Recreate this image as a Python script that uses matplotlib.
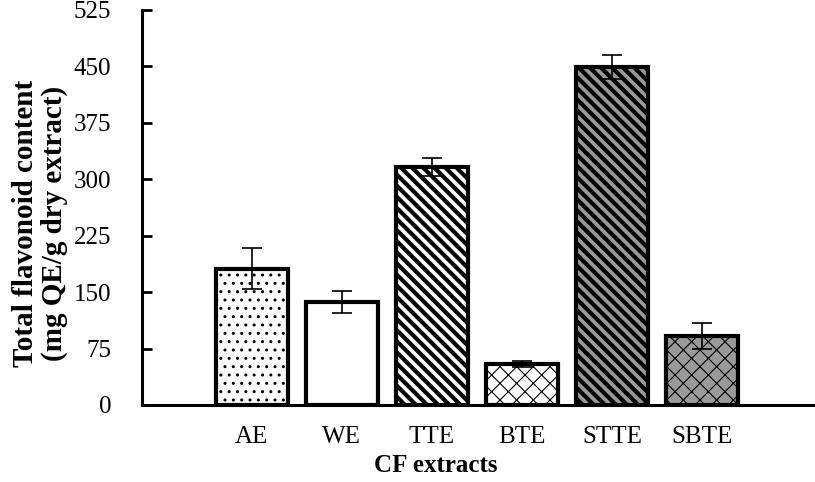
import matplotlib
matplotlib.use("Agg")
import matplotlib.pyplot as plt
import numpy as np

categories = ["AE", "WE", "TTE", "BTE", "STTE", "SBTE"]
values = [181, 137, 316, 54, 449, 92]
errors = [27, 15, 12, 4, 16, 17]
yticks = [0, 75, 150, 225, 300, 375, 450, 525]

fills = ["white", "white", "white", "white", "#9a9a9a", "#9a9a9a"]
hatches = ["..", "", "\\\\\\", "xx", "\\\\\\", "xx"]
hatch_lw = [1.0, 1.0, 3.0, 0.8, 3.0, 0.8]

plt.rcParams['font.family'] = ['Liberation Serif', 'DejaVu Serif']

fig = plt.figure(figsize=(8.15, 4.82), dpi=100)
ax = fig.add_axes([0.1742, 0.1598, 0.824, 0.8195])

x = np.arange(len(categories))
bars = ax.bar(x, values, width=0.8, color=fills, edgecolor="black", linewidth=3, zorder=2)
for b, h, lw in zip(bars, hatches, hatch_lw):
    b.set_hatch(h)
    if hasattr(b, "set_hatch_linewidth"):
        b.set_hatch_linewidth(lw)
ax.errorbar(x, values, yerr=errors, fmt="none", ecolor="black", elinewidth=1.2,
            capsize=7, capthick=1.2, zorder=3)

ax.set_xlim(-1.22, 6.24)
ax.set_ylim(0, 525)
ax.set_yticks(yticks)
ax.set_xticks(x)
ax.set_xticklabels(categories)
ax.tick_params(axis="y", direction="in", length=7, width=2, labelsize=18, pad=22)
ax.tick_params(axis="x", length=0, labelsize=18, pad=15)
for s in ["top", "right"]:
    ax.spines[s].set_visible(False)
for s in ["left", "bottom"]:
    ax.spines[s].set_linewidth(2.2)

ax.set_xlabel("CF extracts", fontsize=18, fontweight="bold")
ax.xaxis.set_label_coords(0.438, -0.125)
ax.set_ylabel("Total flavonoid content\n(mg QE/g dry extract)", fontsize=21,
              fontweight="bold", linespacing=1.1)
ax.yaxis.set_label_coords(-0.11, 0.46)

fig.savefig("out.png", dpi=100)
